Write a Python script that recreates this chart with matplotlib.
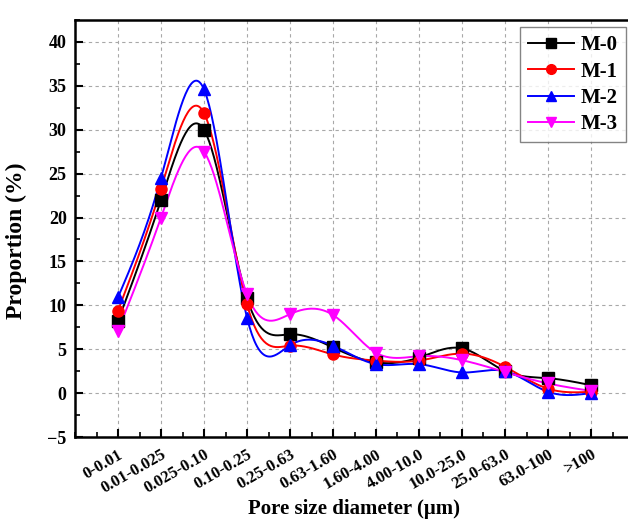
import numpy as np
import matplotlib
matplotlib.use("Agg")
import matplotlib.pyplot as plt
from matplotlib.ticker import MultipleLocator

categories = ["0-0.01", "0.01-0.025", "0.025-0.10", "0.10-0.25", "0.25-0.63",
              "0.63-1.60", "1.60-4.00", "4.00-10.0", "10.0-25.0", "25.0-63.0",
              "63.0-100", ">100"]
m0 = [8.2, 22.0, 30.0, 10.8, 6.7, 5.2, 3.5, 4.05, 5.1, 2.5, 1.7, 0.9]
m1 = [9.4, 23.3, 31.9, 10.1, 5.4, 4.4, 3.7, 3.7, 4.5, 3.0, 0.5, 0.15]
m2 = [10.9, 24.5, 34.6, 8.6, 5.45, 5.4, 3.3, 3.3, 2.35, 2.5, 0.15, 0.0]
m3 = [7.1, 20.0, 27.5, 11.25, 9.0, 8.9, 4.6, 4.2, 3.75, 2.4, 1.1, 0.25]

series = [("M-0", m0, "black", "s"), ("M-1", m1, "red", "o"),
          ("M-2", m2, "blue", "^"), ("M-3", m3, "magenta", "v")]


def natural_spline(x, y, n=400):
    x = np.asarray(x, float)
    y = np.asarray(y, float)
    k = len(x)
    h = np.diff(x)
    A = np.zeros((k, k))
    b = np.zeros(k)
    A[0, 0] = 1
    A[-1, -1] = 1
    for i in range(1, k - 1):
        A[i, i - 1] = h[i - 1]
        A[i, i] = 2 * (h[i - 1] + h[i])
        A[i, i + 1] = h[i]
        b[i] = 6 * ((y[i + 1] - y[i]) / h[i] - (y[i] - y[i - 1]) / h[i - 1])
    M = np.linalg.solve(A, b)
    xs = np.linspace(x[0], x[-1], n)
    idx = np.clip(np.searchsorted(x, xs) - 1, 0, k - 2)
    x0, x1 = x[idx], x[idx + 1]
    hh = x1 - x0
    t0 = x1 - xs
    t1 = xs - x0
    ys = (M[idx] * t0 ** 3 / (6 * hh) + M[idx + 1] * t1 ** 3 / (6 * hh)
          + (y[idx] / hh - M[idx] * hh / 6) * t0
          + (y[idx + 1] / hh - M[idx + 1] * hh / 6) * t1)
    return xs, ys


plt.rcParams['font.family'] = ['Liberation Serif', 'DejaVu Serif']
plt.rcParams['font.weight'] = 'bold'

fig = plt.figure(figsize=(6.28, 5.23), dpi=100)
ax = fig.add_axes([75 / 628, 86 / 523, (634 - 75) / 628, (437 - 20) / 523])

x = np.arange(len(categories))
for name, vals, col, mk in series:
    xs, ys = natural_spline(x, vals)
    ax.plot(xs, ys, color=col, lw=1.4, zorder=3)
    ax.plot(x, vals, linestyle='none', marker=mk, color=col, ms=8, zorder=4)
    ax.plot([], [], color=col, lw=1.4, marker=mk, ms=7, label=name)

ax.set_xlim(-1, 12)
ax.set_ylim(-5, 42.5)
ax.set_xticks(x)
ax.set_xticklabels(categories, rotation=30, ha='right', rotation_mode='anchor',
                   fontsize=12, fontweight='bold')
ax.xaxis.set_minor_locator(MultipleLocator(0.5))
ax.set_yticks(np.arange(-5, 41, 5))
ax.yaxis.set_minor_locator(MultipleLocator(2.5))
ax.tick_params(axis='both', which='major', direction='in', length=6, width=1.5, pad=7)
ax.tick_params(axis='y', which='major', labelsize=13, pad=6)
ax.tick_params(axis='both', which='minor', direction='in', length=3.5, width=1.2)
for lab in ax.get_yticklabels():
    lab.set_fontweight('bold')
for sp in ax.spines.values():
    sp.set_linewidth(1.8)

ax.grid(True, which='major', color='#a8a8a8', linestyle=(0, (3, 3)), lw=0.8, zorder=0)

ax.set_xlabel("Pore size diameter (μm)", fontsize=15, fontweight='bold', labelpad=2)
ax.set_ylabel("Proportion (%)", fontsize=17, fontweight='bold')
ax.yaxis.set_label_coords(-0.086, 0.47)

leg = ax.legend(loc='upper right', bbox_to_anchor=(626 / 628, 1 - 27 / 523),
                bbox_transform=fig.transFigure, borderaxespad=0, fancybox=False,
                edgecolor='#666666', prop={'weight': 'bold', 'size': 15},
                handlelength=2.2, labelspacing=0.3, borderpad=0.4, handletextpad=0.3)
leg.get_frame().set_linewidth(1.0)

fig.savefig("out.png", dpi=100)
